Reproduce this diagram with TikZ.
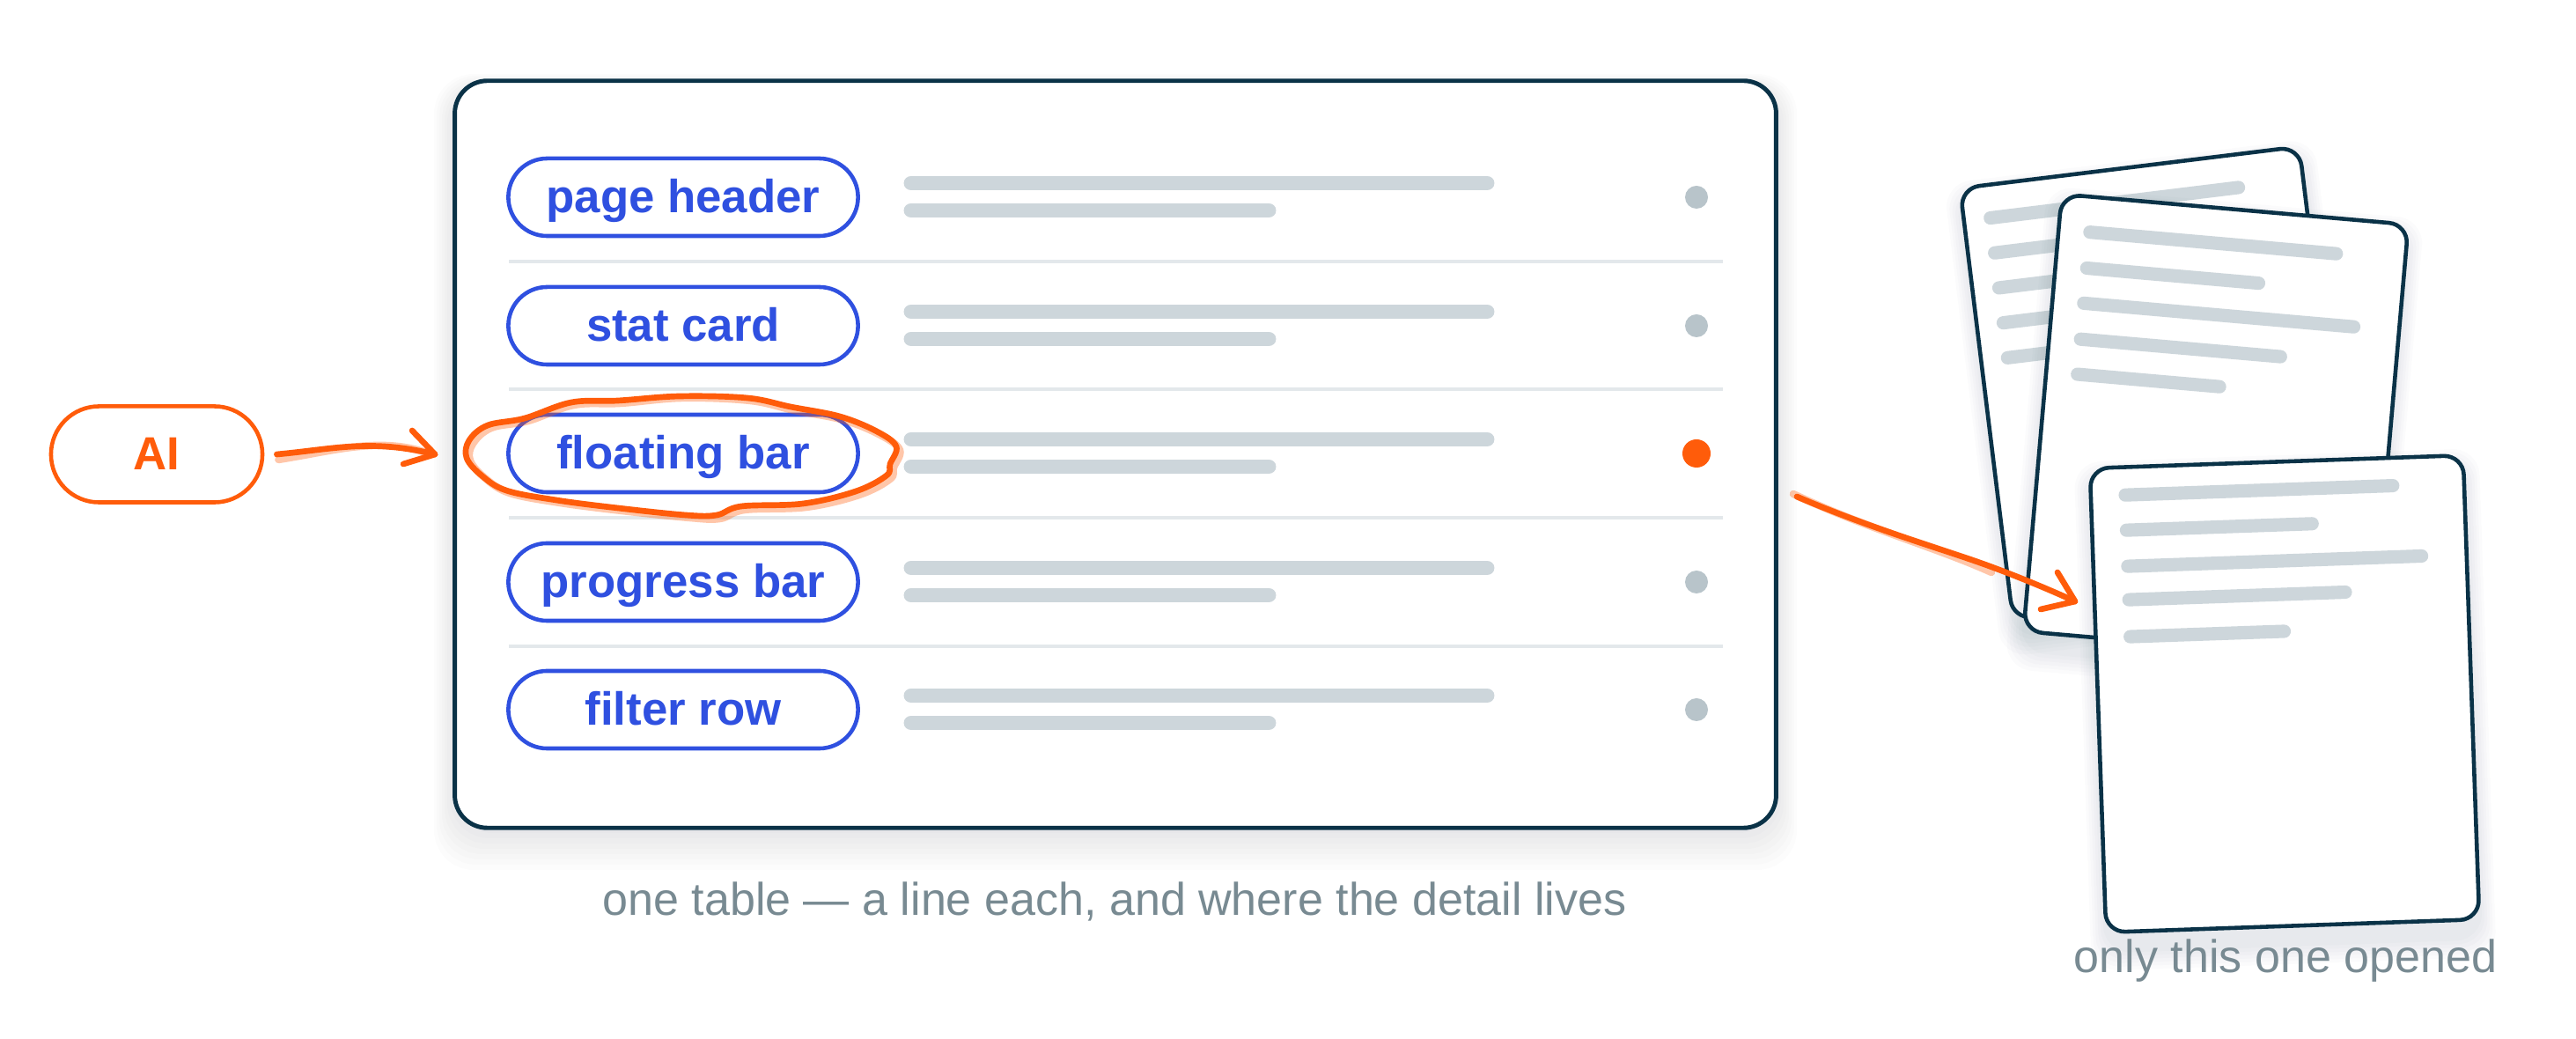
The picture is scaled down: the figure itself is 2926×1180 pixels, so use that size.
\documentclass[tikz,border=0pt]{standalone}
\usepackage{fontspec}
\setmainfont{Liberation Sans}
\usepackage{tikz}
\usetikzlibrary{positioning,calc}

\definecolor{navy}{HTML}{0A3247}
\definecolor{tagblue}{HTML}{2F50E0}
\definecolor{hand}{HTML}{FF5C0A}
\definecolor{bargray}{HTML}{CDD6DB}
\definecolor{dotgray}{HTML}{B8C4CA}
\definecolor{rulegray}{HTML}{E3E8EB}
\definecolor{capgray}{HTML}{788A92}

\tikzset{
  tablebox/.style={draw=navy, line width=1.4pt, fill=white, rounded corners=0.37cm,
    minimum width=15cm, minimum height=8.48cm},
  tagpill/.style={draw=tagblue, line width=1.3pt, fill=white, rounded corners=0.44cm,
    minimum width=3.97cm, minimum height=0.88cm, inner sep=0pt, text=tagblue,
    font=\bfseries\fontsize{15}{18}\selectfont, text height=11pt, text depth=0.8pt},
  aipill/.style={tagpill, draw=hand, text=hand, minimum width=2.4cm,
    minimum height=1.09cm, rounded corners=0.545cm},
  hbar/.style={line width=4.8pt, line cap=round, draw=bargray},
  sepline/.style={line width=1.1pt, draw=rulegray},
  docpage/.style={draw=navy, line width=1.3pt, fill=white, rounded corners=0.22cm,
    transform shape},
  docline/.style={line width=4.3pt, line cap=round, draw=bargray},
  scrawl/.style={draw=hand, line width=1.9pt, line cap=round, line join=round},
  scrawlghost/.style={draw=hand, draw opacity=0.35, line width=2.4pt, line cap=round},
  captext/.style={text=capgray, font=\fontsize{14.8}{17}\selectfont, anchor=base},
}

\begin{document}
\begin{tikzpicture}[x=0.01cm, y=-0.01cm]
    \fill[white] (0,0) rectangle (2926,1180);
    \useasboundingbox (0,0) rectangle (2926,1180);

    % Soft shadow under the table
    \foreach \k in {1,...,8} {
      \fill[navy, opacity=0.012, rounded corners=0.45cm] (517-3*\k,100-2*\k) rectangle (2017+3*\k,940+6*\k);
    }
    \node[tablebox] (tbl) at (1267,516) {};

    % Rows: tag, two grey bars, status dot
    \foreach \y/\lbl/\nm in {224/page header/ph, 370/stat card/sc, 515/floating bar/fb, 661/progress bar/pb, 806/filter row/fr} {
      \node[tagpill] (\nm) at (776,\y) {\lbl};
      \draw[hbar] (1035,\y-16) -- (1689,\y-16);
      \draw[hbar] (1035,\y+15) -- (1441,\y+15);
      \fill[dotgray] (1927,\y) circle (13);
    }
    \fill[hand] (1927,515) circle (16);

    % Row separators
    \foreach \y in {297,442,588,734} {
      \draw[sepline] (578,\y) -- (1957,\y);
    }

    % Back document
    \begin{scope}[shift={(2449,435)}, rotate=7]
      \foreach \k in {1,...,6} {
        \fill[navy, opacity=0.014, rounded corners=0.3cm] (-194-3*\k,-236-3*\k) rectangle (194+3*\k,264+4*\k);
      }
      \node[docpage, minimum width=3.88cm, minimum height=4.93cm] (doc1) at (0,0) {};
      \foreach \y/\len in {-209/284, -169/250, -129/270, -89/230, -49/200} {
        \draw[docline] (-164,\y) -- ++(\len,0);
      }
    \end{scope}

    % Middle document
    \begin{scope}[shift={(2517,486)}, rotate=-5]
      \foreach \k in {1,...,6} {
        \fill[navy, opacity=0.014, rounded corners=0.3cm] (-197-3*\k,-239-3*\k) rectangle (197+3*\k,269+4*\k);
      }
      \node[docpage, minimum width=3.95cm, minimum height=4.98cm] (doc2) at (0,0) {};
      \foreach \y/\len in {-209/281, -168/196, -128/308, -87/228, -47/162} {
        \draw[docline] (-162,\y) -- ++(\len,0);
      }
    \end{scope}

    % Front document, the opened one
    \begin{scope}[shift={(2595,788)}, rotate=2]
      \foreach \k in {1,...,6} {
        \fill[navy, opacity=0.014, rounded corners=0.3cm] (-212-3*\k,-253-3*\k) rectangle (212+3*\k,283+4*\k);
      }
      \node[docpage, minimum width=4.24cm, minimum height=5.27cm] (doc3) at (0,0) {};
      \foreach \y/\len in {-232/304, -192/211, -151/334, -113/246, -71/175} {
        \draw[docline] (-173,\y) -- ++(\len,0);
      }
    \end{scope}

    % AI tag and its hand-drawn arrow
    \node[aipill] (ai) at (178,516) {AI};
    \coordinate (aiout) at ($(ai.east)+(14,0)$);
    \coordinate (aitip) at ($(fb.west)+(-81,1)$);
    \draw[scrawlghost] ($(aiout)+(2,6)$) .. controls (380,512) and (430,496) .. ($(aitip)+(-10,-2)$);
    \draw[scrawl] (aiout) .. controls (380,510) and (420,498) .. (aitip);
    \draw[scrawl] ($(aitip)+(-26,-27)$) -- (aitip) -- ($(aitip)+(-36,11)$);

    % Circle scribbled round the picked row
    \draw[scrawlghost] plot[smooth cycle, tension=0.6] coordinates {
      (537,504) (558,486) (600,478) (652,460) (705,458) (775,452) (852,455) (902,466)
      (958,477) (1000,494) (1022,511) (1015,531) (1011,544) (976,562) (916,576)
      (846,579) (818,589) (783,588) (706,580) (636,571) (579,560) (551,543) (534,523)};
    \draw[scrawl] plot[smooth cycle, tension=0.6] coordinates {
      (533,500) (554,483) (596,475) (649,457) (702,455) (772,450) (849,452) (898,462)
      (954,473) (996,490) (1018,507) (1011,527) (1007,540) (972,558) (912,572)
      (842,575) (814,585) (779,585) (702,577) (632,568) (575,557) (547,540) (530,520)};

    % Arrow from the table to the opened document
    \coordinate (tblout) at ($(tbl.east)+(21,48)$);
    \coordinate (doctip) at (2357,683);
    \draw[scrawlghost] ($(tblout)+(-4,-3)$) .. controls (2120,600) and (2200,622) .. (2262,650);
    \draw[scrawl] (tblout) .. controls (2120,598) and (2200,622) .. (2243,637) .. controls (2275,648) and (2320,666) .. (doctip);
    \draw[scrawl] ($(doctip)+(-20,-33)$) -- (doctip) -- ($(doctip)+(-39,9)$);

    % Captions
    \node[captext] (tblcap) at (1266,1040) {one table — a line each, and where the detail lives};
    \node[captext] (doccap) at (2596,1105) {only this one opened};
\end{tikzpicture}
\end{document}
